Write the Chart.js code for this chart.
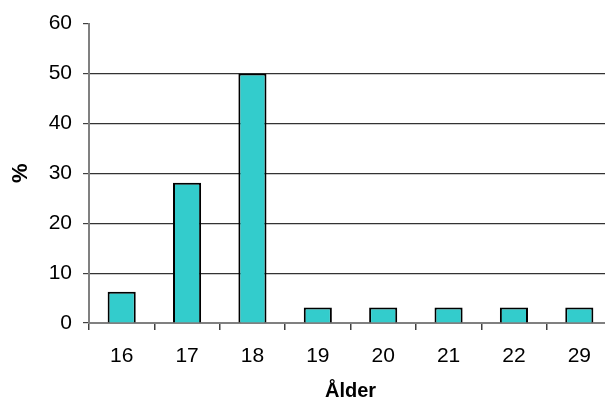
<!DOCTYPE html>
<html>
<head>
<meta charset="utf-8">
<script src="https://cdn.jsdelivr.net/npm/chart.js@4"></script>
<style>
  html, body { margin: 0; padding: 0; background: #fff; overflow: hidden; }
  #wrap { width: 612px; height: 403px; position: relative; }
</style>
</head>
<body>
<div id="wrap"><canvas id="c"></canvas></div>
<script>
// age distribution, percent of respondents
const ages = ['16', '17', '18', '19', '20', '21', '22', '29'];
const percent = [6.25, 28.13, 50, 3.13, 3.13, 3.13, 3.13, 3.13];
const yTicks = [0, 10, 20, 30, 40, 50, 60];

const font = 'Liberation Sans, Arial, sans-serif';
const axisGrey = '#808080';

new Chart(document.getElementById('c'), {
    type: 'bar',
    data: {
        labels: ages,
        datasets: [{
            data: percent,
            backgroundColor: '#33CCCC',
            borderColor: '#000',
            borderWidth: 2,
            barPercentage: 0.43,
            categoryPercentage: 1,
        }],
    },
    options: {
        responsive: true,
        maintainAspectRatio: false,
        animation: false,
        layout: { padding: { top: 21, left: 0, right: 0, bottom: 0 } },
        plugins: { legend: { display: false }, tooltip: { enabled: false } },
        scales: {
            x: {
                offset: true,
                grid: { offset: true, drawOnChartArea: false, tickLength: 7, tickColor: '#404040', lineWidth: 1.5 },
                border: { color: axisGrey, width: 2 },
                ticks: { color: '#000', font: { family: font, size: 21 }, padding: 14, maxRotation: 0 },
                title: { display: true, text: 'Ålder', color: '#000', font: { family: font, size: 20, weight: 'bold' }, padding: 0 },
                afterFit: s => { s.height = 80; },
            },
            y: {
                min: 0,
                max: 60,
                afterBuildTicks: s => { s.ticks = yTicks.map(v => ({ value: v })); },
                grid: {
                    tickLength: 6,
                    lineWidth: 1.2,
                    color: c => c.tick.value === 60 ? 'rgba(0,0,0,0)' : (c.tick.value === 0 ? axisGrey : '#333'),
                    tickColor: '#404040',
                },
                border: { color: axisGrey, width: 2 },
                ticks: { color: '#000', font: { family: font, size: 21 }, padding: 11 },
                title: { display: true, text: '%', color: '#000', font: { family: font, size: 22, weight: 'bold' }, padding: { top: 8, bottom: 0 } },
                afterFit: s => { s.width = 89; },
            },
        },
    },
});
</script>
</body>
</html>
